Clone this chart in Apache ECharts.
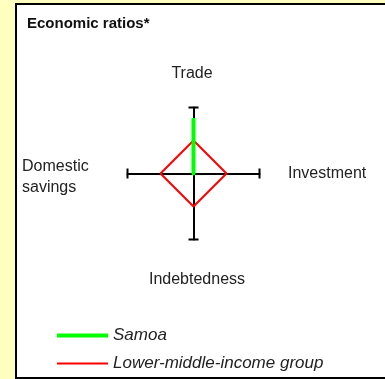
<!DOCTYPE html>
<html lang="en">
  <head>
    <meta charset="UTF-8" />
    <title>Economic ratios</title>
    <script src="https://cdn.jsdelivr.net/npm/echarts@6/dist/echarts.min.js"></script>
    <style>
      html, body { margin: 0; padding: 0; background: #ffffc0; }
      #chart { width: 385px; height: 379px; }
    </style>
  </head>
  <body>
    <div id="chart"></div>
    <script>
      // 指标（逆时针：上、左、下、右）
      var indicators = ["Trade", "Domestic\nsavings", "Indebtedness", "Investment"];
      var samoa = [0.84, 0, 0, 0];
      var lowerMiddle = [0.5, 0.5, 0.5, 0.5];
      var seriesNames = ["Samoa", "Lower-middle-income group"];

      var myChart = echarts.init(document.getElementById("chart"));

      // 轴名称位置
      var namePos = [
        { x: 192, y: 74, align: "center" },
        { x: 22, y: 177, align: "left" },
        { x: 197, y: 280, align: "center" },
        { x: 288, y: 174, align: "left" }
      ];
      var nameTexts = indicators.map(function(name, i) {
        return {
          type: "text",
          x: namePos[i].x,
          y: namePos[i].y,
          z: 10,
          style: {
            text: name,
            font: "16px 'Liberation Sans', Arial, sans-serif",
            fill: "#222",
            align: namePos[i].align,
            verticalAlign: "middle",
            lineHeight: 21
          }
        };
      });

      var option = {
        backgroundColor: "#ffffc0",
        animation: false,
        graphic: [
          {
            type: "rect",
            z: -10,
            shape: { x: 16, y: 4, width: 380, height: 374 },
            style: { fill: "#fff", stroke: "#000", lineWidth: 2 }
          },
          {
            type: "text",
            x: 27,
            y: 24,
            style: {
              text: "Economic ratios*",
              font: "bold 15px 'Liberation Sans', Arial, sans-serif",
              fill: "#111",
              verticalAlign: "middle"
            }
          }
        ].concat(nameTexts),
        legend: {
          orient: "vertical",
          left: 57,
          top: 327,
          padding: 0,
          itemWidth: 51,
          itemHeight: 4,
          itemGap: 11,
          textStyle: {
            fontFamily: "'Liberation Sans', Arial, sans-serif",
            fontStyle: "italic",
            fontSize: 17,
            color: "#222"
          },
          data: [
            { name: seriesNames[0], icon: "path://M0,0H51V4H0Z" },
            { name: seriesNames[1], icon: "path://M0,0H51V2H0Z" }
          ]
        },
        radar: {
          center: [193.5, 173.5],
          radius: 66,
          startAngle: 90,
          indicator: indicators.map(function(name) {
            return { name: name, max: 1, min: 0 };
          }),
          axisName: { show: false },
          splitNumber: 1,
          axisLine: {
            symbol: ["none", "rect"],
            symbolSize: [10, 2],
            lineStyle: { color: "#000", width: 2 }
          },
          splitLine: { show: false },
          splitArea: { show: false },
          axisTick: { show: false },
          axisLabel: { show: false }
        },
        series: [
          {
            type: "radar",
            symbol: "none",
            data: [
              {
                name: seriesNames[1],
                value: lowerMiddle,
                itemStyle: { color: "#ff0000" },
                lineStyle: { color: "#ff0000", width: 2 }
              },
              {
                name: seriesNames[0],
                value: samoa,
                itemStyle: { color: "#00ff00" },
                lineStyle: { color: "#00ff00", width: 4 }
              }
            ]
          }
        ]
      };
      myChart.setOption(option);
    </script>
  </body>
</html>
